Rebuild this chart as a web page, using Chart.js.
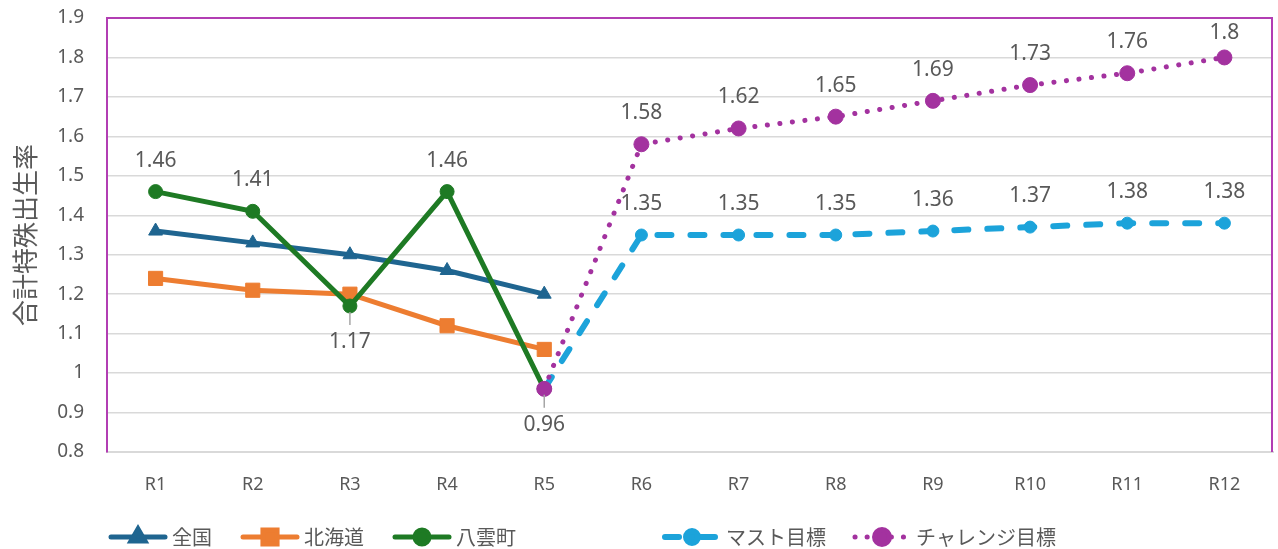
<!DOCTYPE html>
<html lang="ja">
<head>
<meta charset="utf-8">
<title>合計特殊出生率</title>
<script src="https://cdn.jsdelivr.net/npm/chart.js@4.4.1/dist/chart.umd.min.js"></script>
<style>
  html, body { margin: 0; padding: 0; background: #fff; }
  #wrap { width: 1278px; height: 549px; position: relative; }
</style>
</head>
<body>
<div id="wrap"><canvas id="birthChart"></canvas></div>
<script>
const categories = ['R1', 'R2', 'R3', 'R4', 'R5', 'R6', 'R7', 'R8', 'R9', 'R10', 'R11', 'R12'];
const zenkoku = [1.36, 1.33, 1.30, 1.26, 1.20, null, null, null, null, null, null, null];
const hokkaido = [1.24, 1.21, 1.20, 1.12, 1.06, null, null, null, null, null, null, null];
const yakumo = [1.46, 1.41, 1.17, 1.46, 0.96, null, null, null, null, null, null, null];
const mustTarget = [null, null, null, null, 0.96, 1.35, 1.35, 1.35, 1.36, 1.37, 1.38, 1.38];
const challengeTarget = [null, null, null, null, 0.96, 1.58, 1.62, 1.65, 1.69, 1.73, 1.76, 1.8];
const seriesNames = ['全国', '北海道', '八雲町', 'マスト目標', 'チャレンジ目標'];
const yTitle = '合計特殊出生率';

// where the value labels go (null = no label)
const yakumoLabelAt = ['above', 'above', 'below', 'above', 'below', null, null, null, null, null, null, null];
const targetLabelAt = [null, null, null, null, null, 'above', 'above', 'above', 'above', 'above', 'above', 'above'];

const TEXT = '#595959';
const NUM_FONT = '"Noto Sans", "Noto Sans CJK JP", sans-serif';
const JP_FONT = '"Noto Sans CJK JP", "Noto Sans", sans-serif';
const FRAME = '#b23db3';

// x start of each legend entry
const legendX = [108, 240, 392, 662, 852];

const pointLabels = {
  id: 'pointLabels',
  afterDatasetsDraw(chart) {
    const ctx = chart.ctx;
    const top = chart.chartArea.top;
    ctx.save();
    ctx.font = '21px ' + NUM_FONT;
    ctx.fillStyle = TEXT;
    ctx.textAlign = 'center';
    ctx.textBaseline = 'middle';
    chart.data.datasets.forEach((ds, i) => {
      if (!ds.labelAt) return;
      const meta = chart.getDatasetMeta(i);
      ds.labelAt.forEach((pos, j) => {
        if (!pos || ds.data[j] == null) return;
        const pt = meta.data[j];
        if (pos === 'below') {
          ctx.strokeStyle = '#a6a6a6';
          ctx.lineWidth = 1.5;
          ctx.beginPath();
          ctx.moveTo(pt.x, pt.y + 6);
          ctx.lineTo(pt.x, pt.y + 19);
          ctx.stroke();
          ctx.fillText(String(ds.data[j]), pt.x, pt.y + 36);
        } else {
          // keep labels inside the plot frame
          ctx.fillText(String(ds.data[j]), pt.x, Math.max(pt.y - 31, top + 15));
        }
      });
    });
    ctx.restore();
  }
};

const frame = {
  id: 'frame',
  beforeDatasetsDraw(chart) {
    const { ctx, chartArea: a } = chart;
    ctx.save();
    ctx.strokeStyle = FRAME;
    ctx.lineWidth = 2;
    ctx.beginPath();
    ctx.moveTo(a.left, a.top);
    ctx.lineTo(a.right - 1, a.top);
    ctx.lineTo(a.right - 1, a.bottom);
    ctx.stroke();
    ctx.restore();
  }
};

const bottomLegend = {
  id: 'bottomLegend',
  afterDraw(chart) {
    const ctx = chart.ctx;
    const y = 537;
    ctx.save();
    chart.data.datasets.forEach((ds, i) => {
      const x = legendX[i];
      ctx.strokeStyle = ds.borderColor;
      ctx.lineWidth = ds.borderWidth;
      ctx.lineCap = 'round';
      ctx.setLineDash(ds.legendDash || []);
      ctx.beginPath();
      ctx.moveTo(x + 3, y);
      ctx.lineTo(x + 57, y);
      ctx.stroke();
      ctx.setLineDash([]);
      ctx.fillStyle = ds.pointBackgroundColor;
      ctx.strokeStyle = ds.pointBackgroundColor;
      Chart.helpers.drawPoint(ctx, {
        pointStyle: ds.pointStyle,
        radius: ds.pointRadius,
        rotation: 0,
        borderWidth: 1
      }, x + 30, y);
      ctx.fillStyle = TEXT;
      ctx.font = '20px ' + JP_FONT;
      ctx.textAlign = 'left';
      ctx.textBaseline = 'middle';
      ctx.fillText(ds.label, x + 64, y);
    });
    ctx.restore();
  }
};

new Chart(document.getElementById('birthChart'), {
  type: 'line',
  data: {
    labels: categories,
    datasets: [
      {
        label: seriesNames[0], data: zenkoku, order: 5,
        borderColor: '#1f6590', backgroundColor: '#1f6590', borderWidth: 5,
        pointStyle: 'triangle', pointRadius: 8, pointBackgroundColor: '#1f6590',
        pointBorderColor: '#1f6590', pointBorderWidth: 1
      },
      {
        label: seriesNames[1], data: hokkaido, order: 4,
        borderColor: '#ed7d31', backgroundColor: '#ed7d31', borderWidth: 5,
        pointStyle: 'rect', pointRadius: 10, pointBackgroundColor: '#ed7d31',
        pointBorderColor: '#ed7d31', pointBorderWidth: 1
      },
      {
        label: seriesNames[2], data: yakumo, order: 3, labelAt: yakumoLabelAt,
        borderColor: '#1e7a24', backgroundColor: '#1e7a24', borderWidth: 5,
        pointStyle: 'circle', pointRadius: 7, pointBackgroundColor: '#1e7a24',
        pointBorderColor: '#1e7a24', pointBorderWidth: 1
      },
      {
        label: seriesNames[3], data: mustTarget, order: 2, labelAt: targetLabelAt,
        borderColor: '#1ca3da', backgroundColor: '#1ca3da', borderWidth: 6,
        borderDash: [14, 19], borderCapStyle: 'round', legendDash: [14, 22],
        pointStyle: 'circle', pointRadius: 6, pointBackgroundColor: '#1ca3da',
        pointBorderColor: '#1ca3da', pointBorderWidth: 1
      },
      {
        label: seriesNames[4], data: challengeTarget, order: 1, labelAt: targetLabelAt,
        borderColor: '#a3329f', backgroundColor: '#a3329f', borderWidth: 5,
        borderDash: [0.1, 12.5], borderCapStyle: 'round', legendDash: [0.1, 12],
        pointStyle: 'circle', pointRadius: 7.5, pointBackgroundColor: '#a3329f',
        pointBorderColor: '#a3329f', pointBorderWidth: 1
      }
    ]
  },
  options: {
    responsive: true,
    maintainAspectRatio: false,
    animation: false,
    spanGaps: false,
    layout: { autoPadding: false, padding: { top: 18, right: 5, bottom: 0, left: 0 } },
    plugins: {
      legend: { display: false },
      tooltip: { enabled: false }
    },
    scales: {
      x: {
        offset: true,
        grid: { display: false, drawTicks: false },
        border: { display: true, color: '#d9d9d9', width: 2 },
        ticks: { color: TEXT, font: { family: NUM_FONT, size: 18 }, padding: 22, maxRotation: 0 },
        afterFit(s) {
          s.height = 97;
          s.paddingLeft = 0;
          s.paddingRight = 0;
        }
      },
      y: {
        min: 0.8,
        max: 1.9,
        grid: { color: '#d9d9d9', lineWidth: 1.5, drawTicks: false },
        border: { display: true, color: FRAME, width: 2 },
        ticks: {
          stepSize: 0.1,
          color: TEXT,
          font: { family: NUM_FONT, size: 19 },
          padding: 23,
          callback: v => String(Math.round(v * 10) / 10)
        },
        title: {
          display: true,
          text: yTitle,
          color: TEXT,
          font: { family: JP_FONT, size: 26 },
          padding: { top: 10, bottom: 0 }
        },
        afterFit(s) {
          s.width = 107;
          s.paddingTop = 0;
          s.paddingBottom = 0;
        }
      }
    }
  },
  plugins: [frame, pointLabels, bottomLegend]
});
</script>
</body>
</html>
